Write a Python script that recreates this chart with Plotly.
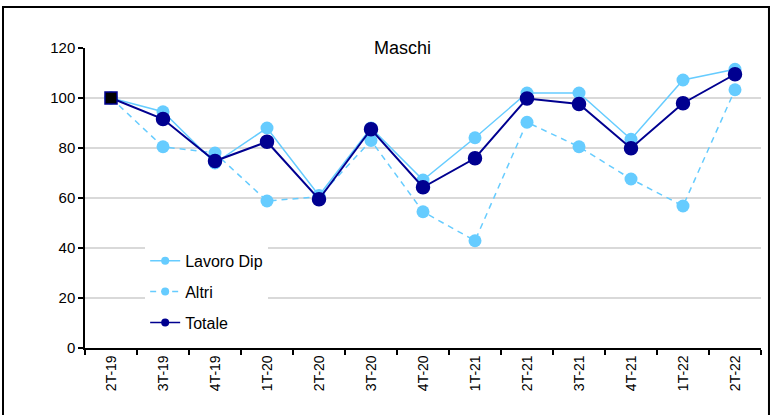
import plotly.graph_objects as go

categories = ["2T-19", "3T-19", "4T-19", "1T-20", "2T-20", "3T-20", "4T-20",
              "1T-21", "2T-21", "3T-21", "4T-21", "1T-22", "2T-22"]
lavoro_dip = [100, 94.5, 74, 88, 61, 88, 67.2, 84.1, 102, 102, 83.5, 107.2, 111.5]
altri = [100, 80.5, 78, 58.8, 60.5, 83, 54.5, 42.9, 90.3, 80.5, 67.6, 56.8, 103.3]
totale = [100, 91.6, 74.8, 82.5, 59.5, 87.5, 64.3, 75.9, 99.8, 97.6, 79.9, 97.9, 109.5]
y_ticks = [0, 20, 40, 60, 80, 100, 120]

LIGHT = "#66CCFF"
NAVY = "#000090"
FONT = "Liberation Sans, Arial, sans-serif"

fig = go.Figure()

# plotted series (legend handled by dummy traces with smaller markers)
fig.add_trace(go.Scatter(x=categories, y=lavoro_dip, mode="lines+markers",
                         line=dict(color=LIGHT, width=1.5),
                         marker=dict(color=LIGHT, size=13, opacity=1), showlegend=False))
fig.add_trace(go.Scatter(x=categories, y=altri, mode="lines+markers",
                         line=dict(color=LIGHT, width=1.5, dash="6px,5px"),
                         marker=dict(color=LIGHT, size=13, opacity=1), showlegend=False))
n = len(categories)
fig.add_trace(go.Scatter(x=categories, y=totale, mode="lines+markers",
                         line=dict(color=NAVY, width=2),
                         marker=dict(color=["black"] + [NAVY] * (n - 1),
                                     symbol=["square"] + ["circle"] * (n - 1),
                                     size=[12] + [13] * (n - 1), opacity=1,
                                     line=dict(color=NAVY, width=1.5)),
                         showlegend=False))

# legend entries
for name, dash, col, grp in [("Lavoro Dip", "solid", LIGHT, "a"),
                             ("Altri", "6px,5px", LIGHT, "b"),
                             ("Totale", "solid", NAVY, "c")]:
    fig.add_trace(go.Scatter(x=[None], y=[None], mode="lines+markers", name=name,
                             legendgroup=grp,
                             line=dict(color=col, width=1.5, dash=dash),
                             marker=dict(color=col, size=8, opacity=1)))

fig.update_layout(
    template="none",
    width=772, height=415,
    margin=dict(l=85, r=11, t=48, b=67, autoexpand=False),
    paper_bgcolor="white", plot_bgcolor="white",
    font=dict(family=FONT, size=14, color="black"),
    showlegend=True,
    legend=dict(x=0.089, y=0.347, xanchor="left", yanchor="top",
                bgcolor="white", borderwidth=0,
                font=dict(family=FONT, size=16, color="black"),
                traceorder="grouped", tracegroupgap=7),
    xaxis=dict(type="category", range=[-0.5, n - 0.5], automargin=False,
               showline=True, linecolor="black", linewidth=1.5,
               ticks="outside", ticklen=5, tickcolor="black", tickwidth=1.5,
               tickson="boundaries", tickangle=-90, showgrid=False,
               tickfont=dict(family=FONT, size=14)),
    yaxis=dict(range=[0, 120], tickvals=y_ticks, automargin=False,
               showline=True, linecolor="black", linewidth=1.5,
               ticks="outside", ticklen=5, tickcolor="black", tickwidth=1.5,
               showgrid=True, gridcolor="#D9D9D9", gridwidth=1.5,
               zeroline=False, tickfont=dict(family=FONT, size=15)),
    annotations=[dict(text="Maschi", xref="paper", yref="paper",
                      x=0.469, y=1.0, xanchor="center", yanchor="middle",
                      showarrow=False, bgcolor="white", borderpad=6,
                      font=dict(family=FONT, size=18, color="black"))],
    shapes=[dict(type="rect", xref="paper", yref="paper",
                 x0=-0.1213, x1=1.0118, y0=-0.3, y1=1.1367,
                 line=dict(color="black", width=2), fillcolor="rgba(0,0,0,0)",
                 layer="above")],
)

fig.write_html("out.html", config={"displayModeBar": False},
               post_script="document.body.style.margin='0';document.body.style.padding='0';")
